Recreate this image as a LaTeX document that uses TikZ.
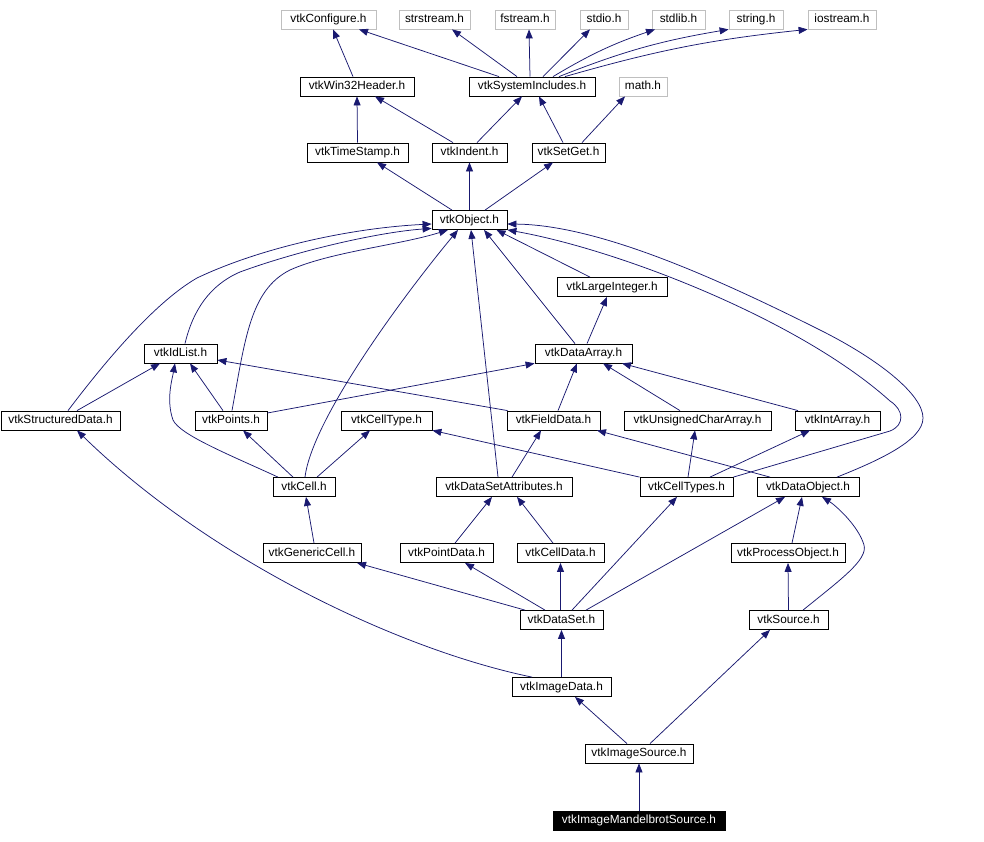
\documentclass[tikz,border=0pt]{standalone}
\usepackage{fontspec}
\setmainfont{Liberation Sans}
\usetikzlibrary{arrows.meta}
\definecolor{edgec}{HTML}{191970}
\definecolor{grayc}{HTML}{BFBFBF}
\begin{document}
\begin{tikzpicture}[x=1pt,y=-1pt,
  hbox/.style={draw=black, line width=0.8pt, fill=white, minimum height=19pt, inner sep=0pt, text height=8.6pt, text depth=2.2pt, font=\fontsize{11.8}{12}\selectfont, anchor=center},
  sysbox/.style={hbox, draw=grayc},
  curbox/.style={hbox, fill=black, text=white},
  edge/.style={draw=edgec, line width=0.75pt, -{Triangle[length=9pt,width=7pt]}}
]
\useasboundingbox (0,0) rectangle (984,842);
% row 1
\node[sysbox, minimum width=95pt] (conf) at (328.5,19.5) {vtkConfigure.h};
\node[sysbox, minimum width=71pt] (strs) at (434.5,19.5) {strstream.h};
\node[sysbox, minimum width=60pt] (fstr) at (525,19.5) {fstream.h};
\node[sysbox, minimum width=48pt] (stdio) at (604,19.5) {stdio.h};
\node[sysbox, minimum width=53pt] (stdlib) at (678.5,19.5) {stdlib.h};
\node[sysbox, minimum width=54pt] (string) at (756,19.5) {string.h};
\node[sysbox, minimum width=68pt] (iostr) at (842,19.5) {iostream.h};
% row 2
\node[hbox, minimum width=114pt] (win32) at (357,86.5) {vtkWin32Header.h};
\node[hbox, minimum width=126pt] (sysinc) at (532,86.5) {vtkSystemIncludes.h};
\node[sysbox, minimum width=48pt] (math) at (643,86.5) {math.h};
% row 3
\node[hbox, minimum width=101pt] (tstamp) at (357.5,152.5) {vtkTimeStamp.h};
\node[hbox, minimum width=75pt] (indent) at (469.5,152.5) {vtkIndent.h};
\node[hbox, minimum width=73pt] (setget) at (568.5,152.5) {vtkSetGet.h};
% row 4
\node[hbox, minimum width=75pt] (object) at (469.5,220) {vtkObject.h};
\node[hbox, minimum width=110pt] (largeint) at (612,287) {vtkLargeInteger.h};
% row 5
\node[hbox, minimum width=73pt] (idlist) at (180.5,353.5) {vtkIdList.h};
\node[hbox, minimum width=97pt] (dataarray) at (583.5,353.5) {vtkDataArray.h};
% row 6
\node[hbox, minimum width=119pt] (structdata) at (60.5,420.5) {vtkStructuredData.h};
\node[hbox, minimum width=72pt] (points) at (231,420.5) {vtkPoints.h};
\node[hbox, minimum width=91pt] (celltype) at (386.5,420.5) {vtkCellType.h};
\node[hbox, minimum width=93pt] (fielddata) at (553.5,420.5) {vtkFieldData.h};
\node[hbox, minimum width=147pt] (ucarray) at (697.5,420.5) {vtkUnsignedCharArray.h};
\node[hbox, minimum width=85pt] (intarray) at (837.5,420.5) {vtkIntArray.h};
% row 7
\node[hbox, minimum width=62pt] (cell) at (304,487) {vtkCell.h};
\node[hbox, minimum width=136pt] (dsattr) at (504,487) {vtkDataSetAttributes.h};
\node[hbox, minimum width=93pt] (celltypes) at (686.5,487) {vtkCellTypes.h};
\node[hbox, minimum width=102pt] (dataobj) at (808,487) {vtkDataObject.h};
% row 8
\node[hbox, minimum width=98pt] (gencell) at (312,553) {vtkGenericCell.h};
\node[hbox, minimum width=93pt] (pointdata) at (446.5,553) {vtkPointData.h};
\node[hbox, minimum width=87pt] (celldata) at (560.5,553) {vtkCellData.h};
\node[hbox, minimum width=114pt] (procobj) at (788,553) {vtkProcessObject.h};
% row 9
\node[hbox, minimum width=83pt] (dataset) at (561.5,620) {vtkDataSet.h};
\node[hbox, minimum width=79pt] (source) at (788.5,620) {vtkSource.h};
% lower rows
\node[hbox, minimum width=99pt] (imgdata) at (561.5,687) {vtkImageData.h};
\node[hbox, minimum width=108pt] (imgsrc) at (639,753.5) {vtkImageSource.h};
\node[curbox, minimum width=172pt] (mandel) at (639,820.5) {vtkImageMandelbrotSource.h};

% edges top
\draw[edge] ([xshift=-4pt]win32.north) -- ([xshift=4.5pt]conf.south);
\draw[edge] ([xshift=-33pt]sysinc.north) -- ([xshift=30.5pt]conf.south);
\draw[edge] ([xshift=-15pt]sysinc.north) -- ([xshift=17.5pt]strs.south);
\draw[edge] ([xshift=-2pt]sysinc.north) -- ([xshift=4pt]fstr.south);
\draw[edge] ([xshift=11pt]sysinc.north) -- ([xshift=-14pt]stdio.south);
\draw[edge] ([xshift=21pt]sysinc.north) to[bend left=6] ([xshift=-23.5pt]stdlib.south);
\draw[edge] ([xshift=27pt]sysinc.north) to[bend left=6] (string.south west);
\draw[edge] ([xshift=33pt]sysinc.north) to[bend left=5] (iostr.south west);
\draw[edge] (tstamp.north) -- (win32.south);
\draw[edge] ([xshift=-16.5pt]indent.north) -- ([xshift=18pt]win32.south);
\draw[edge] ([xshift=7.5pt]indent.north) -- ([xshift=-10pt]sysinc.south);
\draw[edge] ([xshift=-5.5pt]setget.north) -- ([xshift=7pt]sysinc.south);
\draw[edge] ([xshift=13.5pt]setget.north) -- ([xshift=-18pt]math.south);
\draw[edge] ([xshift=-17.5pt]object.north) -- ([xshift=19.5pt]tstamp.south);
\draw[edge] (object.north) -- (indent.south);
\draw[edge] ([xshift=15.5pt]object.north) -- ([xshift=-15.5pt]setget.south);
% into vtkObject
\draw[edge] ([xshift=7.5pt]structdata.north) .. controls (95,375) and (150,305) .. (197,278) .. controls (260,248) and (350,228) .. ([yshift=-4pt]object.west);
\draw[edge] ([xshift=4.5pt]idlist.north) .. controls (193,310) and (210,285) .. (240,272) .. controls (300,250) and (380,232) .. ([yshift=1.5pt]object.south west);
\draw[edge] ([xshift=1pt]points.north) .. controls (245,340) and (250,290) .. (290,270) .. controls (330,252) and (400,245) .. ([xshift=-21.5pt]object.south);
\draw[edge] ([xshift=1pt]cell.north) .. controls (312,420) and (400,300) .. ([xshift=-11.5pt]object.south);
\draw[edge] ([xshift=-6pt]dsattr.north) -- ([xshift=1.5pt]object.south);
\draw[edge] ([xshift=-8.5pt]dataarray.north) -- ([xshift=14.5pt]object.south);
\draw[edge] ([xshift=-22pt]largeint.north) -- ([xshift=27pt]object.south);
\draw[edge] (celltypes.north east) -- (890,431) .. controls (905,425) and (904,410) .. (890,401) .. controls (800,320) and (620,250) .. (object.south east);
\draw[edge] ([xshift=29pt]dataobj.north) .. controls (880,460) and (923,440) .. (923,418) .. controls (923,395) and (880,360) .. (820,330) .. controls (720,280) and (600,225) .. ([yshift=-4pt]object.east);
% middle
\draw[edge] ([xshift=3.5pt]dataarray.north) -- ([xshift=-5pt]largeint.south);
\draw[edge] ([xshift=16.5pt]structdata.north) -- ([xshift=-20.5pt]idlist.south);
\draw[edge] ([xshift=-8pt]points.north) -- ([xshift=9.5pt]idlist.south);
\draw[edge] ([xshift=-26pt]cell.north) .. controls (230,455) and (180,435) .. (173,420) .. controls (166,400) and (172,380) .. ([xshift=-5.5pt]idlist.south);
\draw[edge] ([xshift=1pt]fielddata.north west) -- ([yshift=-6.5pt]idlist.east);
\draw[edge] ([yshift=7.5pt]points.east) -- (dataarray.south west);
\draw[edge] ([xshift=4.5pt]fielddata.north) -- ([xshift=-6.5pt]dataarray.south);
\draw[edge] ([xshift=-17.5pt]ucarray.north) -- ([xshift=19.5pt]dataarray.south);
\draw[edge] ([xshift=-39.5pt]intarray.north) -- ([xshift=38.5pt]dataarray.south);
\draw[edge] ([xshift=-11pt]cell.north) -- ([xshift=12pt]points.south);
\draw[edge] ([xshift=13pt]cell.north) -- ([xshift=-16.5pt]celltype.south);
\draw[edge] (celltypes.north west) -- (celltype.south east);
\draw[edge] ([xshift=8pt]dsattr.north) -- ([xshift=-12.5pt]fielddata.south);
\draw[edge] ([xshift=-38pt]dataobj.north) -- ([xshift=43.5pt]fielddata.south);
\draw[edge] ([xshift=1.5pt]celltypes.north) -- ([xshift=-2.5pt]ucarray.south);
\draw[edge] ([xshift=23.5pt]celltypes.north) -- ([xshift=-27.5pt]intarray.south);
% lower
\draw[edge] ([xshift=2pt]gencell.north) -- ([xshift=2pt]cell.south);
\draw[edge] ([xshift=8.5pt]pointdata.north) -- ([xshift=-12pt]dsattr.south);
\draw[edge] ([xshift=-7.5pt]celldata.north) -- ([xshift=13pt]dsattr.south);
\draw[edge] ([xshift=-36.5pt]dataset.north) -- ([xshift=45pt]gencell.south);
\draw[edge] ([xshift=-16.5pt]dataset.north) -- ([xshift=18.5pt]pointdata.south);
\draw[edge] ([xshift=-1pt]dataset.north) -- (celldata.south);
\draw[edge] ([xshift=10.5pt]dataset.north) -- ([xshift=-9.5pt]celltypes.south);
\draw[edge] ([xshift=24.5pt]dataset.north) -- ([xshift=-23pt]dataobj.south);
\draw[edge] ([xshift=4pt]procobj.north) -- ([xshift=-6pt]dataobj.south);
\draw[edge] ([xshift=14.5pt]source.north) .. controls (840,580) and (868,560) .. (864,545) .. controls (858,525) and (835,505) .. ([xshift=14pt]dataobj.south);
\draw[edge] (source.north) -- (procobj.south);
\draw[edge] ([xshift=-29.5pt]imgdata.north) .. controls (400,650) and (210,560) .. ([xshift=16.5pt]structdata.south);
\draw[edge] (imgdata.north) -- (dataset.south);
\draw[edge] ([xshift=-12pt]imgsrc.north) -- ([xshift=13.5pt]imgdata.south);
\draw[edge] ([xshift=11pt]imgsrc.north) -- ([xshift=-18.5pt]source.south);
\draw[edge] (mandel.north) -- (imgsrc.south);
\end{tikzpicture}
\end{document}
